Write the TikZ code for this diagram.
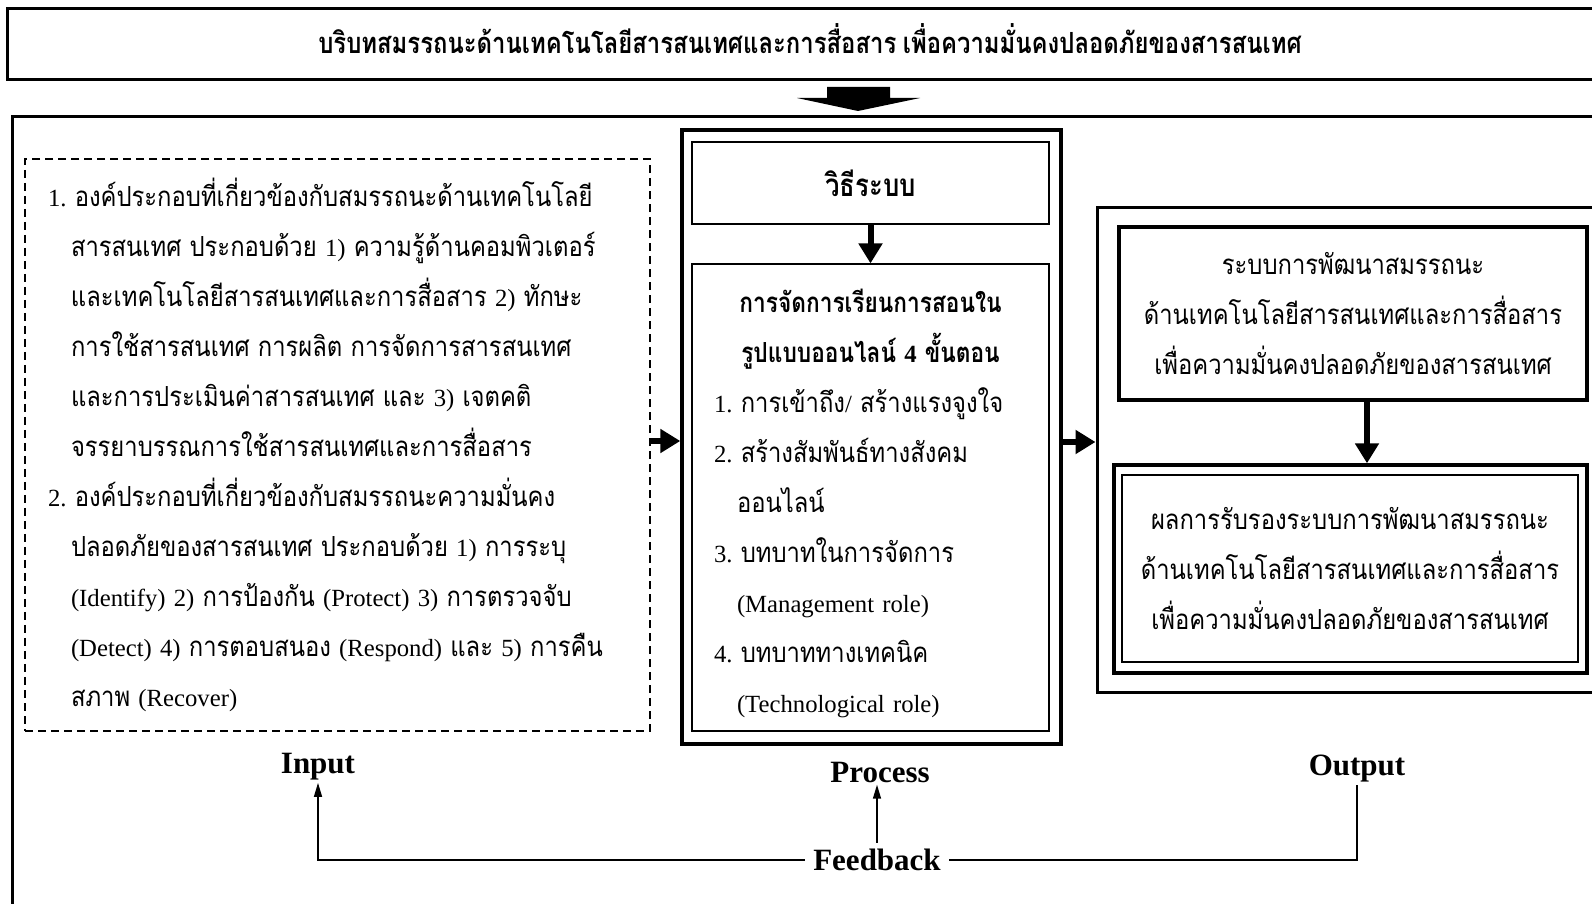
\documentclass[tikz,border=0pt]{standalone}
\usepackage{fontspec}
\setmainfont{Liberation Serif}
\newfontfamily\thaifont[Script=Thai, Scale=1.12, FakeStretch=0.86,
    BoldFeatures={FakeStretch=0.82}]{Loma}
\usetikzlibrary{arrows.meta, positioning, calc}
% Thai runs switch to the Thai font by themselves
\XeTeXinterchartokenstate=1
\newXeTeXintercharclass\thaiclass
\newcount\thaicode
\thaicode="0E00
\loop
  \XeTeXcharclass\thaicode=\thaiclass
  \ifnum\thaicode<"0E7F \advance\thaicode by 1
\repeat
\XeTeXinterchartoks 0 \thaiclass = {\begingroup\thaifont}
\XeTeXinterchartoks 4095 \thaiclass = {\begingroup\thaifont}
\XeTeXinterchartoks \thaiclass 0 = {\endgroup}
\XeTeXinterchartoks \thaiclass 4095 = {\endgroup}
\frenchspacing
\newcommand\ind{\hspace*{11.5pt}}
\tikzset{
    bigframe/.style={draw, line width=1.5pt},
    thinbox/.style={draw, line width=0.6pt, inner sep=0pt},
    thickbox/.style={draw, line width=1.7pt, inner sep=0pt},
    dashbox/.style={draw, line width=1pt, dash pattern=on 4pt off 2.5pt},
    body/.style={font=\fontsize{12.35}{25}\selectfont},
    lbl/.style={font=\fontsize{15.5}{18}\selectfont\bfseries, inner sep=1pt},
    fat/.style={-{Triangle[length=10pt,width=11.5pt]}, line width=3pt},
    fb/.style={line width=0.75pt},
    fbarrow/.style={fb, -{Triangle[length=7pt,width=4pt]}},
}
\begin{document}
\begin{tikzpicture}[x=0.5pt, y=-0.5pt]
    \clip (0,0) rectangle (1592,904);
    % context on top
    \node[bigframe, minimum width=803pt, minimum height=35.5pt, text depth=6pt,
          font=\fontsize{13}{16}\selectfont\bfseries] (title) at (810,44.5)
        {บริบทสมรรถนะด้านเทคโนโลยีสารสนเทศและการสื่อสาร เพื่อความมั่นคงปลอดภัยของสารสนเทศ};
    \fill (827,87) -- (890,87) -- (890,98) -- (920,98) -- (858,111)
        -- (797,98) -- (827,98) -- cycle;
    \draw[bigframe] (12,117) rectangle (1620,930);
    % Input
    \node[dashbox, body, text width=289.5pt, inner xsep=11.5pt, inner ysep=0pt,
          minimum height=286pt, align=left] (inbox) at (337.5,445)
        {1. องค์ประกอบที่เกี่ยวข้องกับสมรรถนะด้านเทคโนโลยี\\
         \ind สารสนเทศ ประกอบด้วย 1) ความรู้ด้านคอมพิวเตอร์\\
         \ind และเทคโนโลยีสารสนเทศและการสื่อสาร 2) ทักษะ\\
         \ind การใช้สารสนเทศ การผลิต การจัดการสารสนเทศ\\
         \ind และการประเมินค่าสารสนเทศ และ 3) เจตคติ\\
         \ind จรรยาบรรณการใช้สารสนเทศและการสื่อสาร\\
         2. องค์ประกอบที่เกี่ยวข้องกับสมรรถนะความมั่นคง\\
         \ind ปลอดภัยของสารสนเทศ ประกอบด้วย 1) การระบุ\\
         \ind (Identify) 2) การป้องกัน (Protect) 3) การตรวจจับ\\
         \ind (Detect) 4) การตอบสนอง (Respond) และ 5) การคืน\\
         \ind สภาพ (Recover)};
    % Process
    \node[thickbox, minimum width=189.5pt, minimum height=307pt] (procbox) at (871.5,437) {};
    \node[thinbox, minimum width=178.5pt, minimum height=41pt,
          font=\fontsize{14}{16}\selectfont\bfseries] (method) at (870.5,183) {วิธีระบบ};
    \node[thinbox, body, text width=156.5pt, inner xsep=11pt,
          minimum height=233.5pt, align=left] (steps) at (870.5,497.5)
        {\rule{0pt}{18pt}\makebox[\linewidth]{\bfseries การจัดการเรียนการสอนใน}\\
         \makebox[\linewidth]{\bfseries รูปแบบออนไลน์ 4 ขั้นตอน}\\
         1. การเข้าถึง/ สร้างแรงจูงใจ\\
         2. สร้างสัมพันธ์ทางสังคม\\
         \ind ออนไลน์\\
         3. บทบาทในการจัดการ\\
         \ind (Management role)\\
         4. บทบาททางเทคนิค\\
         \ind (Technological role)};
    % Output
    \node[draw, line width=1.5pt, minimum width=261.5pt, minimum height=242pt] (outbox) at (1358.5,450) {};
    \node[thickbox, body, minimum width=234pt, minimum height=86.5pt, align=center] (sysbox) at (1353,313.5)
        {ระบบการพัฒนาสมรรถนะ\\
         ด้านเทคโนโลยีสารสนเทศและการสื่อสาร\\
         เพื่อความมั่นคงปลอดภัยของสารสนเทศ};
    \node[thickbox, minimum width=236.5pt, minimum height=104pt] (certbox) at (1350.5,569) {};
    \node[thinbox, body, minimum width=228pt, minimum height=93.5pt, align=center] (certin) at (1350,568.5)
        {ผลการรับรองระบบการพัฒนาสมรรถนะ\\
         ด้านเทคโนโลยีสารสนเทศและการสื่อสาร\\
         เพื่อความมั่นคงปลอดภัยของสารสนเทศ};
    % labels and feedback
    \node[lbl] (lblin) at (318,767) {Input};
    \node[lbl] (lblproc) at (880,772) {Process};
    \node[lbl] (lblout) at (1357,769) {Output};
    \node[lbl, inner xsep=4pt, inner ysep=3pt] (feedback) at (877,860) {Feedback};
    \draw[fat] ([yshift=2pt]inbox.east) -- ([yshift=2pt]inbox.east -| procbox.west);
    \draw[fat] ([yshift=-2.5pt]procbox.east) -- ([yshift=-2.5pt]procbox.east -| outbox.west);
    \draw[fat] (method) -- (steps);
    \draw[fat] ([xshift=7pt]sysbox.south) -- ([xshift=7pt]sysbox.south |- certbox.north);
    \draw[fbarrow] (feedback.west) -| (lblin.south);
    \draw[fbarrow] (feedback.north) -- (feedback.north |- lblproc.south);
    \draw[fb] (feedback.east) -| (lblout.south);
\end{tikzpicture}
\end{document}
